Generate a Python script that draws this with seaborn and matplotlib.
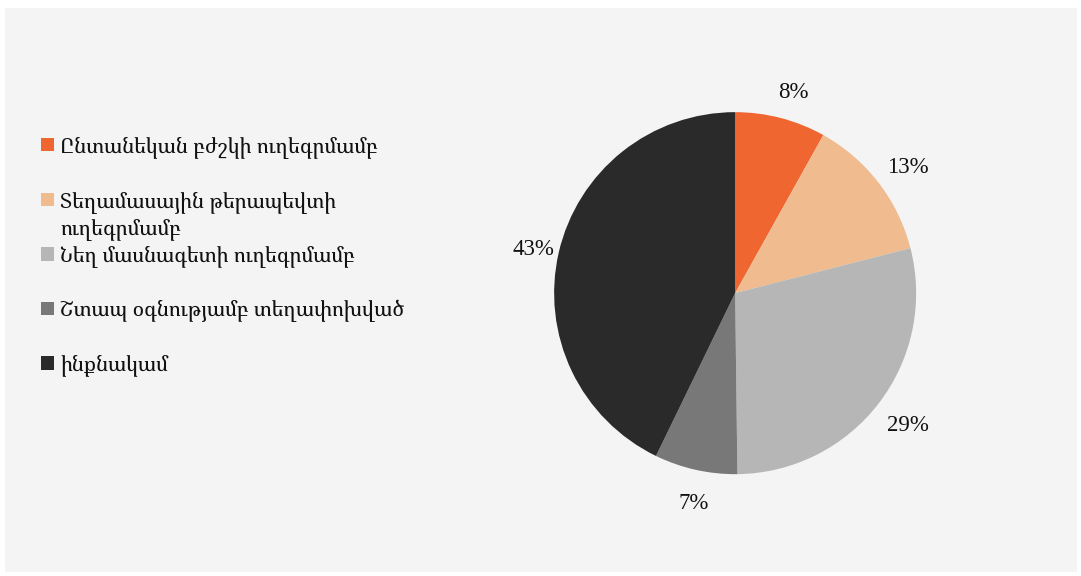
import matplotlib
matplotlib.use('Agg')
import matplotlib.pyplot as plt
import matplotlib.transforms as mtransforms
import seaborn as sns
from matplotlib.patches import Rectangle

sns.set_style('white')
plt.rcParams['font.family'] = ['Noto Serif Armenian', 'Liberation Serif', 'DejaVu Serif']

# data
categories = ['Ընտանեկան բժշկի ուղեգրմամբ',
              'Տեղամասային թերապեվտի ուղեգրմամբ',
              'Նեղ մասնագետի ուղեգրմամբ',
              'Շտապ օգնությամբ տեղափոխված',
              'ինքնակամ']
shares = [8.1, 12.9, 28.8, 7.4, 42.8]
colors = sns.color_palette(['#F06630', '#EFBB8F', '#B6B6B6', '#787878', '#2A2A2A'])

bg = '#F4F4F4'
fig = plt.figure(figsize=(10.81, 5.76), dpi=100, facecolor='white')
fig.patches.append(Rectangle((5 / 1081, 4 / 576), 1072 / 1081, 564 / 576,
                             transform=fig.transFigure, facecolor=bg,
                             edgecolor='none', zorder=-1))

ax = fig.add_axes([0.680 - 0.1674, 0.491 - 0.3142, 0.3349, 0.6285])
wedges, texts, autotexts = ax.pie(shares, colors=colors, startangle=90, counterclock=False,
                                  autopct=lambda p: f'{p:.0f}%', pctdistance=1.17,
                                  wedgeprops={'linewidth': 0},
                                  textprops={'fontsize': 16.5, 'color': '#111111',
                                             'family': 'Liberation Serif'})
ax.set_xlim(-1, 1)
ax.set_ylim(-1, 1)
ax.set_aspect('equal')
shift = mtransforms.ScaledTranslation(5 / 100, -4 / 100, fig.dpi_scale_trans)
for t in autotexts:
    t.set_transform(t.get_transform() + shift)

# legend: second label wraps onto a second line without extra slot height
labels = list(categories)
first, rest = labels[1].rsplit(' ', 1)
labels[1] = first
leg = fig.legend(wedges, labels, loc='upper left', bbox_to_anchor=(0.030, 0.780),
                 frameon=False, fontsize=15, handlelength=0.62, handleheight=0.62,
                 handletextpad=0.3, labelspacing=1.52, borderaxespad=0)
fig.canvas.draw()
ax.annotate(rest, xy=(0, 0), xycoords=leg.get_texts()[1], xytext=(0, -22),
            textcoords='offset pixels', fontsize=15, color='#111111',
            annotation_clip=False)
for t in leg.get_texts():
    t.set_color('#111111')

fig.savefig('out.png', dpi=100, facecolor=fig.get_facecolor())
